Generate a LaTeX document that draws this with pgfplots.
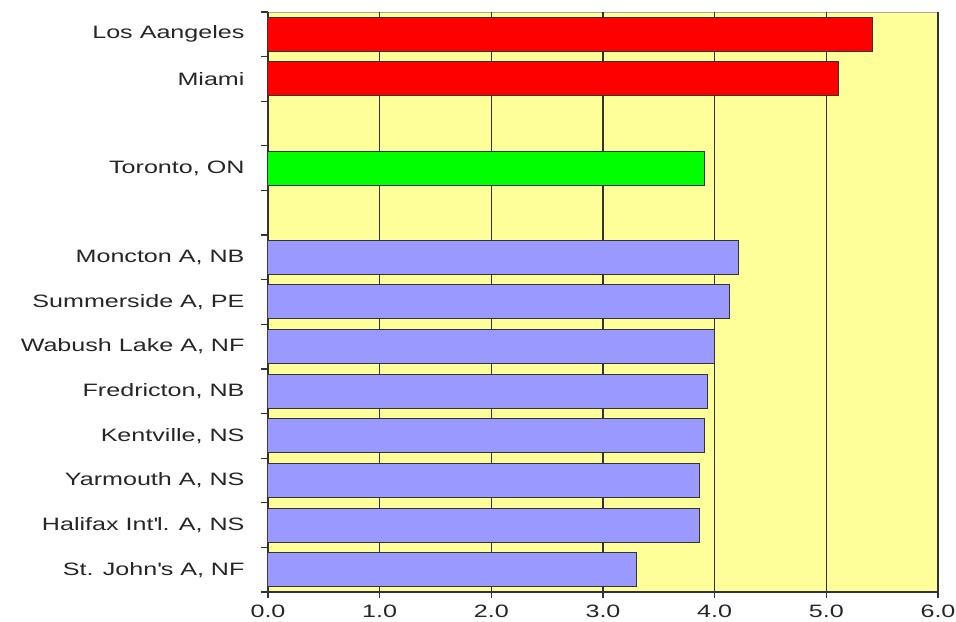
\documentclass[border=0pt]{standalone}
\usepackage{pgfplots}
\pgfplotsset{compat=1.18}
\usepackage{fontspec}
\setmainfont{Liberation Sans}[FakeStretch=1.4]
\definecolor{plotbg}{HTML}{FFFF99}
\definecolor{barred}{HTML}{FF0000}
\definecolor{bargreen}{HTML}{00FF00}
\definecolor{barblue}{HTML}{9999FF}
\definecolor{axisdark}{HTML}{333333}

\begin{document}
\begin{tikzpicture}
  \path[use as bounding box] (-268bp,-30bp) rectangle (688bp,592bp);
  \begin{axis}[
    at={(0,0)}, anchor=south west,
    scale only axis,
    width=670bp, height=580bp,
    xbar, bar shift=0pt, bar width=34bp,
    xmin=0, xmax=6,
    ymin=-0.5, ymax=12.5,
    axis background/.style={fill=plotbg, draw=gray!70},
    axis x line*=bottom,
    axis y line*=left,
    axis line style={axisdark, line width=1.3bp},
    xtick={0,1,...,6},
    xticklabel style={/pgf/number format/fixed, /pgf/number format/fixed zerofill,
      /pgf/number format/precision=1, yshift=-3bp},
    /pgf/number format/assume math mode=true,
    xmajorgrids=true,
    grid style={axisdark, line width=1.6bp},
    ytick={0,...,12},
    yticklabels={{St. John\textquotesingle s A, NF}, {Halifax Int\textquotesingle l. A, NS},
      {Yarmouth A, NS}, {Kentville, NS}, {Fredricton, NB}, {Wabush Lake A, NF},
      {Summerside A, PE}, {Moncton A, NB}, {}, {Toronto, ON}, {}, {Miami}, {Los Aangeles}},
    major y tick style={draw=none},
    minor ytick={-0.5,0.5,...,12.5},
    minor tick length=7bp,
    major tick length=6bp,
    tick align=outside,
    tick style={axisdark, line width=1.3bp},
    ticklabel style={font=\fontsize{18}{20}\selectfont, text=black!85},
    yticklabel style={xshift=-14bp},
  ]
    \addplot[draw=black!80, fill=barblue, line width=1bp] coordinates {
      (3.30,0) (3.86,1) (3.86,2) (3.91,3) (3.94,4) (4.00,5) (4.13,6) (4.21,7)
    };
    \addplot[draw=black!80, fill=bargreen, line width=1bp] coordinates {
      (3.91,9)
    };
    \addplot[draw=black!80, fill=barred, line width=1bp] coordinates {
      (5.11,11) (5.41,12)
    };
  \end{axis}
\end{tikzpicture}
\end{document}
